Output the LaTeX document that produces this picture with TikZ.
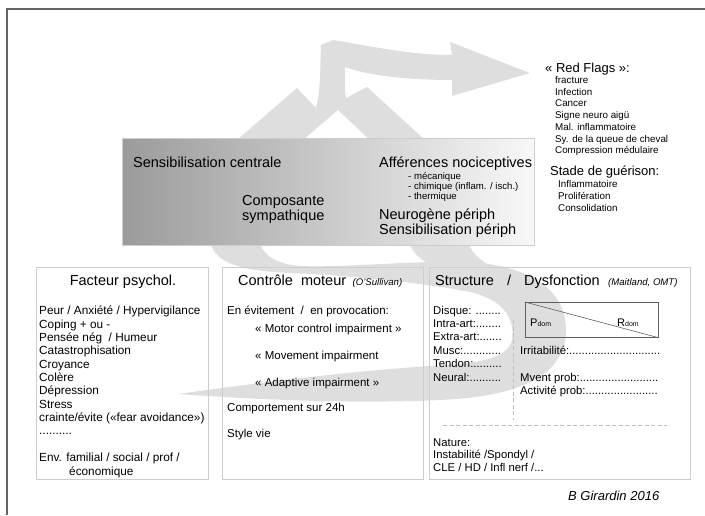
\documentclass[tikz,border=0pt]{standalone}
\usepackage{fontspec}
\setmainfont{Liberation Sans}
\usetikzlibrary{positioning}
\definecolor{flowgrey}{RGB}{222,222,222}
\definecolor{framegrey}{RGB}{100,100,100}
\definecolor{panelgrey}{RGB}{205,205,205}
\definecolor{boxgrey}{RGB}{95,95,95}
\definecolor{dividergrey}{RGB}{190,190,190}
\definecolor{shadedark}{RGB}{155,155,155}
\definecolor{shadelight}{RGB}{248,248,248}

\begin{document}
\begin{tikzpicture}
[x=1pt, y=-1pt,
% STYLES
every node/.style={inner sep=0pt},
% The flow style is used to paint the large grey arrows behind the text
flow/.style={fill=flowgrey},
% The core style is used for the shaded box in the middle
core/.style={rectangle, draw=panelgrey, line width=0.8pt, left color=shadedark, right color=shadelight, anchor=north west},
% The panel style is used to draw the three boxes of the bottom row
panel/.style={rectangle, draw=panelgrey, line width=0.8pt, anchor=north west, minimum height=212pt},
% The heading style is used to write the title of each box
% (a text of several lines sits on the baseline of its last line)
heading/.style={anchor=base west, align=left, font=\fontsize{14.5}{15}\selectfont},
% The entry style is used for the lists inside the boxes
entry/.style={anchor=base west, align=left, font=\fontsize{11.5}{13.4}\selectfont},
% The remark style is used for the short lists of the top right corner
remark/.style={anchor=base west, align=left, font=\fontsize{9.8}{11.7}\selectfont},
% The source style is used for the references written after the titles
source/.style={anchor=base west, font=\fontsize{9.6}{11}\selectfont\itshape},
divider/.style={draw=dividergrey, line width=0.8pt, dash pattern=on 4pt off 2.5pt}]

\useasboundingbox (0,0) rectangle (705,515);

% Frame
\draw [framegrey, line width=2pt] (7,515) -- (7,9) -- (705,9);

% Draw the grey arrows
\fill [flow] (237,140) -- (297,88) -- (316,108)
  .. controls (321,90) and (320,65) .. (321,45)
  -- (333,40)
  .. controls (370,46) and (410,55) .. (452,55)
  -- (450,42) -- (530,73) -- (452,96) -- (452,80)
  .. controls (410,80) and (370,76) .. (345,67)
  .. controls (345,78) and (344,88) .. (346,98)
  -- (367,87) -- (425,140) -- (370,140) -- (338,110) -- (303,140) -- cycle;
\fill [flow] (255,150) -- (211,243)
  .. controls (214,262) and (240,271) .. (290,273)
  .. controls (360,276) and (430,284) .. (470,292)
  .. controls (505,300) and (515,320) .. (512,340)
  .. controls (508,358) and (480,364) .. (430,366)
  .. controls (340,372) and (250,384) .. (178,394)
  .. controls (260,400) and (360,404) .. (440,400)
  .. controls (530,396) and (566,370) .. (566,330)
  .. controls (566,290) and (530,266) .. (470,262)
  .. controls (420,260) and (340,268) .. (300,266)
  .. controls (275,264) and (262,254) .. (260,242)
  -- (300,150) -- cycle;
\fill [flow] (380,150) -- (410,245)
  .. controls (416,258) and (428,265) .. (445,270)
  -- (490,266) .. controls (478,258) and (470,252) .. (468,240)
  -- (425,150) -- cycle;

% Draw boxes
\node [core, minimum width=412pt, minimum height=107pt] (core) at (122,138) {};
\node [panel, minimum width=172pt] (psy) at (36,267) {};
\node [panel, minimum width=201pt] (ctrl) at (222,267) {};
\node [panel, minimum width=261pt] (struct) at (429,267) {};

%%%%%%%%%%%%%%%
% Change data from here

% core
\node [heading] (central) at (133,167) {Sensibilisation centrale};
\node [heading] (afferent) at (379,167) {Afférences nociceptives};
\node [entry, font=\fontsize{9.6}{10.2}\selectfont] (afferentlist) at (408,199.5) {- mécanique\\ - chimique (inflam. / isch.)\\ - thermique};
\node [heading] (sympa) at (242,220) {Composante\\ sympathique};
\node [heading] (periph) at (379,234.5) {Neurogène périph\\ Sensibilisation périph};

% red flags
\node [heading, font=\fontsize{13}{15}\selectfont] (flags) at (545,72.6) {« Red Flags »:};
\node [remark] (flaglist) at (555,153.7) {fracture\\ Infection\\ Cancer\\ Signe neuro aigü\\ Mal. inflammatoire\\ Sy. de la queue de cheval\\ Compression médulaire};
\node [heading, font=\fontsize{13}{15}\selectfont] (healing) at (550,175.5) {Stade de guérison:};
\node [remark, font=\fontsize{9.8}{12.3}\selectfont] (healinglist) at (558,211.6) {Inflammatoire\\ Prolifération\\ Consolidation};

% psy
\node [heading, anchor=base] (psytitle) at (123,285) {Facteur psychol.};
\node [entry, font=\fontsize{11.8}{13.35}\selectfont] (psylist) at (39,475) {Peur / Anxiété / Hypervigilance\\ Coping + ou -\\ Pensée nég\ \ / Humeur\\ Catastrophisation\\ Croyance\\ Colère\\ Dépression\\ Stress\\ crainte/évite («fear avoidance»)\\ ..........\\[13.35pt] Env. familial / social / prof /\\ \hspace*{30pt}économique};

% ctrl
\node [heading] (ctrltitle) at (238,285) {Contrôle\ \ moteur};
\node [source, right=6pt of ctrltitle.base east, anchor=base west] (ctrlsource) {(O'Sullivan)};
\node [entry] (avoid) at (227,314) {En évitement\ \ /\ \ en provocation:};
\node [entry] (motor) at (255,332.5) {« Motor control impairment »};
\node [entry] (movement) at (255,359) {« Movement impairment};
\node [entry] (adaptive) at (255,386) {« Adaptive impairment »};
\node [entry] (behaviour) at (227,411) {Comportement sur 24h};
\node [entry] (lifestyle) at (227,437.5) {Style vie};

% struct
\node [heading] (structtitle) at (435,285) {Structure\hspace{13pt}/\hspace{13pt}Dysfonction};
\node [source, right=8pt of structtitle.base east, anchor=base west] (structsource) {(Maitland, OMT)};
\node [entry, font=\fontsize{11.3}{13.4}\selectfont] (tissues) at (433,381) {Disque: ........\\ Intra-art:........\\ Extra-art:.......\\ Musc:............\\ Tendon:.........\\ Neural:..........};
\node [draw=boxgrey, line width=0.8pt, minimum width=133pt, minimum height=35pt, anchor=north west] (ratio) at (525,302) {};
\draw [boxgrey, line width=0.6pt] (ratio.north west) -- (ratio.south east);
\node [entry, font=\fontsize{11}{13}\selectfont] (pain) at (530,326) {P{\fontsize{7}{8}\selectfont dom}};
\node [entry, font=\fontsize{11}{13}\selectfont] (resist) at (617,326) {R{\fontsize{7}{8}\selectfont dom}};
\node [entry, font=\fontsize{11.3}{13}\selectfont] (irrit) at (520,354) {Irritabilité:.............................};
\node [entry, font=\fontsize{11.3}{13}\selectfont] (mvent) at (520,394.5) {Mvent prob:.........................\\ Activité prob:.......................};
\draw [divider] (513,320) -- (513,420);
\draw [divider] (443,425) -- (667,425);
\node [entry, font=\fontsize{11.3}{12.5}\selectfont] (nature) at (433,471) {Nature:\\ Instabilité /Spondyl /\\ CLE / HD / Infl nerf /...};

% credit
\node [heading, font=\fontsize{13}{15}\selectfont\itshape] (credit) at (568,500) {B Girardin 2016};

%%%%%%%%%%%%%%%%
\end{tikzpicture}
\end{document}
